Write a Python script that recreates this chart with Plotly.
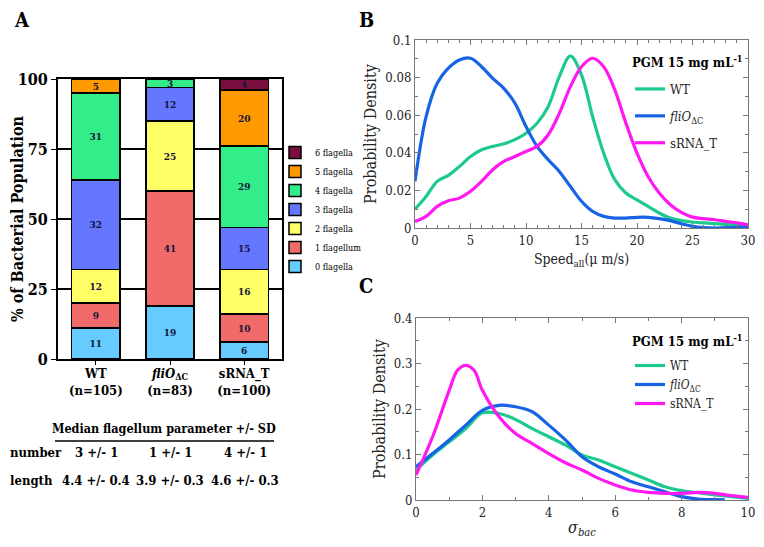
import plotly.graph_objects as go

# page is offset by 8px body margin; figure coordinates mapped from page pixels
W, H = 748, 531
OFF = 8
def px(x): return (x - OFF) / W
def py(y): return 1 - (y - OFF) / H

SERIF = "DejaVu Serif Condensed, DejaVu Serif"

# ---------------- Panel A data ----------------
strains = ["WT", "fliO", "sRNA_T"]
strain_labels = ["<b>WT<br>(n=105)</b>", "<b><i>fliO</i><sub>ΔC</sub><br>(n=83)</b>", "<b>sRNA_T<br>(n=100)</b>"]
flag_levels = ["0 flagella", "1 flagellum", "2 flagella", "3 flagella", "4 flagella", "5 flagella", "6 flagella"]
flag_colors = ["#66CCFF", "#F26B6B", "#FFFF66", "#6677FF", "#33EE88", "#FF9900", "#7A0F3F"]
pct_0 = [11, 19, 6]
pct_1 = [9, 41, 10]
pct_2 = [12, 25, 16]
pct_3 = [32, 12, 15]
pct_4 = [31, 3, 29]
pct_5 = [5, 0, 20]
pct_6 = [0, 0, 4]
pct_all = [pct_0, pct_1, pct_2, pct_3, pct_4, pct_5, pct_6]

table_header = "Median flagellum parameter +/- SD"
table_rows = ["number", "length"]
number_vals = ["3 +/- 1", "1 +/- 1", "4 +/- 1"]
length_vals = ["4.4 +/- 0.4", "3.9 +/- 0.3", "4.6 +/- 0.3"]

# ---------------- Panel B data ----------------
speed_x = list(range(0, 31))
speed_wt = [0.0101, 0.0168, 0.0248, 0.0280, 0.0327, 0.0380, 0.0416, 0.0434, 0.0448, 0.0470,
            0.0504, 0.0557, 0.0646, 0.0805, 0.0915, 0.0814, 0.0593, 0.0398, 0.0257, 0.0186,
            0.0150, 0.0115, 0.0080, 0.0053, 0.0039, 0.0032, 0.0027, 0.0023, 0.0019, 0.0016, 0.0012]
speed_fli = [0.0248, 0.0593, 0.0770, 0.0850, 0.0894, 0.0903, 0.0858, 0.0796, 0.0743, 0.0664,
             0.0540, 0.0434, 0.0363, 0.0301, 0.0221, 0.0142, 0.0088, 0.0062, 0.0053, 0.0053,
             0.0057, 0.0057, 0.0050, 0.0039, 0.0023, 0.0009, 0.0002, 0.0000, 0.0002, 0.0004, 0.0007]
speed_srna = [0.0035, 0.0062, 0.0115, 0.0145, 0.0159, 0.0195, 0.0248, 0.0310, 0.0354, 0.0380,
              0.0407, 0.0434, 0.0496, 0.0610, 0.0752, 0.0858, 0.0903, 0.0858, 0.0735, 0.0558,
              0.0398, 0.0274, 0.0186, 0.0124, 0.0083, 0.0058, 0.0050, 0.0044, 0.0035, 0.0027, 0.0016]

# ---------------- Panel C data ----------------
sigma_x = [0, 0.5, 1, 1.5, 2, 2.5, 3, 3.5, 4, 4.5, 5, 5.5, 6, 6.5, 7, 7.5, 8, 8.5, 9, 9.5, 10]
sigma_wt = [0.066, 0.099, 0.128, 0.157, 0.1916, 0.190, 0.177, 0.157, 0.139, 0.121, 0.099,
            0.088, 0.073, 0.0585, 0.044, 0.029, 0.0205, 0.016, 0.011, 0.0073, 0.0037]
sigma_fli_x = [0, 0.5, 1, 1.5, 2, 2.5, 3, 3.5, 4, 4.5, 5, 5.5, 6, 6.5, 7, 7.5, 8, 8.5, 9, 9.3]
sigma_fli = [0.073, 0.102, 0.132, 0.1645, 0.197, 0.208, 0.205, 0.194, 0.1645, 0.132, 0.095,
             0.073, 0.057, 0.040, 0.029, 0.018, 0.0073, 0.0022, 0.0007, 0.0005]
sigma_srna_x = [0, 0.5, 1, 1.25, 1.5, 1.75, 2, 2.5, 3, 3.5, 4, 4.5, 5, 5.5, 6, 6.5, 7, 7.5, 8, 8.5, 9, 9.5, 10]
sigma_srna = [0.055, 0.139, 0.241, 0.285, 0.296, 0.285, 0.241, 0.183, 0.146, 0.124, 0.102, 0.082,
              0.066, 0.0475, 0.033, 0.022, 0.0168, 0.0146, 0.0146, 0.0168, 0.0146, 0.0095, 0.0058]

line_names = ["WT", "<i>fliO</i><sub>ΔC</sub>", "sRNA_T"]
line_colors = ["#1CC98F", "#1763E6", "#FF19F0"]

fig = go.Figure()

for lvl, vals, col in zip(flag_levels, pct_all, flag_colors):
    fig.add_trace(go.Bar(
        x=[0, 1, 2], y=vals, name=lvl, width=0.65,
        marker=dict(color=col, line=dict(color="black", width=1.5)),
        text=[str(v) if v else "" for v in vals],
        textposition="inside", insidetextanchor="middle", textangle=0,
        textfont=dict(family=SERIF, size=10, color="#15153A", weight="bold"),
        xaxis="x", yaxis="y", legend="legend", showlegend=True,
    ))

for name, ys, col in zip(line_names, [speed_wt, speed_fli, speed_srna], line_colors):
    fig.add_trace(go.Scatter(
        x=speed_x, y=ys, mode="lines", name=name, line=dict(color=col, width=3.2, shape="spline"),
        xaxis="x2", yaxis="y2", legend="legend2", legendgroup="b" + name,
    ))

for name, xs, ys, col in zip(line_names, [sigma_x, sigma_fli_x, sigma_srna_x],
                             [sigma_wt, sigma_fli, sigma_srna], line_colors):
    fig.add_trace(go.Scatter(
        x=xs, y=ys, mode="lines", name=name, line=dict(color=col, width=3.2, shape="spline"),
        xaxis="x3", yaxis="y3", legend="legend3",
    ))

annotations = []
def ann(text, x, y, size=14, bold=True, xanchor="center", color="black"):
    annotations.append(dict(text=(f"<b>{text}</b>" if bold else text), x=px(x), y=py(y),
                            xref="paper", yref="paper", showarrow=False, xanchor=xanchor,
                            yanchor="middle", font=dict(family=SERIF, size=size, color=color)))

ann("A", 22, 20, size=20)
ann("B", 366, 20, size=20)
ann("C", 366, 286, size=20)
ann(table_header, 164, 428, size=12.5)
ann(table_rows[0], 8, 452, size=13, xanchor="left")
ann(table_rows[1], 8, 480, size=13, xanchor="left")
for cx, nv, lv in zip([96, 170, 245], number_vals, length_vals):
    ann(nv, cx, 452, size=13)
    ann(lv, cx, 480, size=13)
ann("PGM 15 mg mL<sup>-1</sup>", 630, 62, size=13, xanchor="left")
ann("PGM 15 mg mL<sup>-1</sup>", 630, 340, size=13, xanchor="left")

shapes = [dict(type="line", xref="paper", yref="paper", x0=px(55), x1=px(274), y0=py(441), y1=py(441),
               line=dict(color="black", width=1.5))]

gray = "#777777"
tickfont_serif = dict(family=SERIF, size=13, color="#222222")

common_lin = dict(showline=True, linecolor=gray, linewidth=1, mirror="allticks", ticks="inside",
                  ticklen=5, tickcolor=gray, showgrid=False, zeroline=False, automargin=False,
                  tickfont=tickfont_serif, ticklabeloverflow="allow")

fig.update_layout(
    template="none",
    font=dict(family=SERIF),
    width=W, height=H, autosize=False, margin=dict(l=0, r=0, t=0, b=0, autoexpand=False),
    paper_bgcolor="white", plot_bgcolor="white", barmode="stack",
    annotations=annotations, shapes=shapes,
    uniformtext=dict(minsize=10, mode="show"),
    xaxis=dict(domain=[px(58), px(282)], range=[-0.51, 2.51], tickvals=[0, 1, 2], ticktext=strain_labels,
               automargin=False, ticklabelstandoff=-3,
               showline=True, linecolor="black", linewidth=2, mirror=True, ticks="outside", ticklen=4,
               tickcolor="black", showgrid=False, zeroline=False,
               tickfont=dict(family=SERIF, size=13, color="black")),
    yaxis=dict(domain=[py(359), py(79)], range=[0, 100], tickvals=[0, 25, 50, 75, 100],
               automargin=False,
               showline=True, linecolor="black", linewidth=2, mirror=True, ticks="outside", ticklen=5,
               tickcolor="black", showgrid=True, gridcolor="black", gridwidth=1.5, zeroline=False,
               tickfont=dict(family=SERIF, size=16, color="black", weight="bold"),
               title=dict(text="<b>% of Bacterial Population</b>", standoff=6,
                          font=dict(family=SERIF, size=16, color="black"))),
    xaxis2=dict(domain=[px(415), px(748)], anchor="y2", range=[0, 30], dtick=5,
                minor=dict(dtick=1, ticks="inside", ticklen=3, tickcolor=gray),
                title=dict(text="Speed<sub>all</sub>(μ m/s)", standoff=7,
                           font=dict(family=SERIF, size=14, color="#222222")), **common_lin),
    yaxis2=dict(domain=[py(228), py(40)], anchor="x2", range=[0, 0.1], dtick=0.02,
                minor=dict(dtick=0.01, ticks="inside", ticklen=3, tickcolor=gray),
                title=dict(text="Probability Density", standoff=4,
                           font=dict(family=SERIF, size=16, color="#222222")), **common_lin),
    xaxis3=dict(domain=[px(416), px(748)], anchor="y3", range=[0, 10], dtick=2,
                minor=dict(dtick=1, ticks="inside", ticklen=3, tickcolor=gray),
                title=dict(text="<i>σ<sub>bac</sub></i>", standoff=4,
                           font=dict(family=SERIF, size=16, color="#222222")), **common_lin),
    yaxis3=dict(domain=[py(500), py(318)], anchor="x3", range=[0, 0.4], dtick=0.1,
                minor=dict(dtick=0.05, ticks="inside", ticklen=3, tickcolor=gray),
                title=dict(text="Probability Density", standoff=4,
                           font=dict(family=SERIF, size=16, color="#222222")), **common_lin),
    legend=dict(x=px(275), y=py(138), xanchor="left", yanchor="top", traceorder="reversed",
                bgcolor="rgba(0,0,0,0)", font=dict(family=SERIF, size=9, color="black"),
                itemwidth=30, tracegroupgap=0),
    legend2=dict(x=px(630), y=py(74), xanchor="left", yanchor="top", traceorder="grouped",
                 bgcolor="rgba(0,0,0,0)", font=dict(family=SERIF, size=13, color="#222222"),
                 tracegroupgap=7),
    legend3=dict(x=px(630), y=py(351), xanchor="left", yanchor="top",
                 bgcolor="rgba(0,0,0,0)", font=dict(family=SERIF, size=12, color="#222222")),
)

fig.write_html("out.html")
